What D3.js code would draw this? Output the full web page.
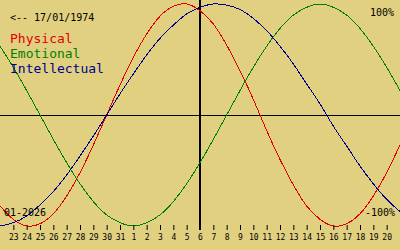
<!DOCTYPE html>
<html>
<head>
<meta charset="utf-8">
<script src="https://cdn.jsdelivr.net/npm/d3@7"></script>
<style>
  html, body { margin: 0; padding: 0; background: #e0d080; }
  svg { display: block; }
</style>
</head>
<body>
<svg id="chart" width="400" height="250"></svg>
<script>
// Day labels under the ticks (day index 1..29 of the 0..30 window)
const dayLabels = ["23","24","25","26","27","28","29","30","31","1","2","3","4","5","6",
                   "7","8","9","10","11","12","13","14","15","16","17","18","19","20"];

// Daily values (percent) for days 0..30 of the window
const physical = [-82, -94, -100, -98, -89, -73, -52, -27, 0, 27, 52, 73, 89, 98, 100, 94,
                  82, 63, 40, 14, -14, -40, -63, -82, -94, -100, -98, -89, -73, -52, -27];
const emotional = [62, 43, 22, 0, -22, -43, -62, -78, -90, -97, -100, -97, -90, -78, -62, -43,
                   -22, 0, 22, 43, 62, 78, 90, 97, 100, 97, 90, 78, 62, 43, 22];
const intellectual = [-100, -97, -91, -81, -69, -54, -37, -19, 0, 19, 37, 54, 69, 81, 91, 97,
                      100, 99, 95, 87, 76, 62, 46, 28, 10, -10, -28, -46, -62, -76, -87];

const series = [
  { name: "Physical", values: physical, color: "#e00000" },
  { name: "Emotional", values: emotional, color: "#008000" },
  { name: "Intellectual", values: intellectual, color: "#000090" }
];

const width = 400, height = 250;
const mono = "'DejaVu Sans Mono', 'Liberation Mono', monospace";
const svg = d3.select("#chart");

const x = d3.scaleLinear().domain([0, 30]).range([0, width]);
const y = d3.scaleLinear().domain([-100, 100]).range([226, 4]);

// zero line
svg.append("line")
  .attr("x1", 0).attr("x2", width)
  .attr("y1", Math.round(y(0)) + 0.5).attr("y2", Math.round(y(0)) + 0.5)
  .attr("stroke", "#000").attr("stroke-width", 1);

// today line
svg.append("line")
  .attr("x1", x(15)).attr("x2", x(15))
  .attr("y1", 0).attr("y2", 230)
  .attr("stroke", "#000").attr("stroke-width", 2);

// curves
const line = d3.line()
  .x((d, i) => x(i))
  .y(d => y(d))
  .curve(d3.curveNatural);

series.forEach(s => {
  svg.append("path")
    .datum(s.values)
    .attr("d", line)
    .attr("fill", "none")
    .attr("stroke", s.color)
    .attr("stroke-width", 1)
    .attr("shape-rendering", "crispEdges");
});

// day axis
const axis = d3.axisBottom(x)
  .tickValues(d3.range(1, 30))
  .tickFormat(i => dayLabels[i - 1])
  .tickSizeInner(5)
  .tickSizeOuter(0)
  .tickPadding(4);

const ax = svg.append("g")
  .attr("transform", "translate(0,225)")
  .call(axis);
ax.select(".domain").remove();
ax.selectAll("line").attr("stroke", "#000");
ax.selectAll("text")
  .attr("fill", "#000")
  .style("font-family", mono)
  .style("font-size", "8px");

// header text
svg.append("text")
  .attr("x", 10).attr("y", 21)
  .style("font-family", mono).style("font-size", "10px")
  .attr("fill", "#000")
  .text("<-- 17/01/1974");

// legend
series.forEach((s, i) => {
  svg.append("text")
    .attr("x", 10).attr("y", 43 + i * 15)
    .style("font-family", mono).style("font-size", "13px")
    .attr("fill", s.color)
    .text(s.name);
});

// scale labels
svg.append("text")
  .attr("x", 394).attr("y", 16)
  .attr("text-anchor", "end")
  .style("font-family", mono).style("font-size", "10px")
  .attr("fill", "#000")
  .text("100%");

svg.append("text")
  .attr("x", 395).attr("y", 216)
  .attr("text-anchor", "end")
  .style("font-family", mono).style("font-size", "10px")
  .attr("fill", "#000")
  .text("-100%");

svg.append("text")
  .attr("x", 4).attr("y", 216)
  .style("font-family", mono).style("font-size", "10px")
  .attr("fill", "#000")
  .text("01-2026");
</script>
</body>
</html>
